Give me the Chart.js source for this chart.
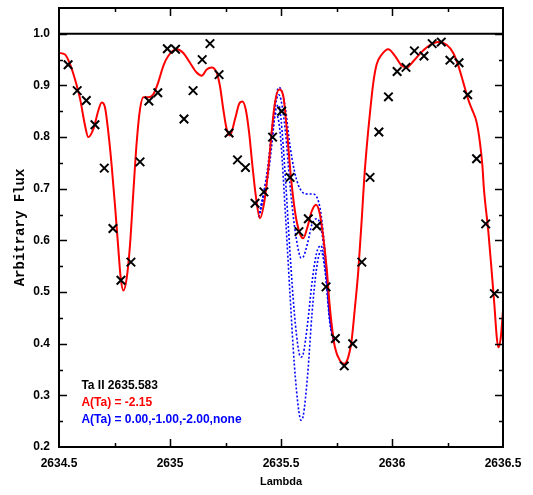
<!DOCTYPE html>
<html>
<head>
<meta charset="utf-8">
<script src="https://cdn.jsdelivr.net/npm/chart.js@4.4.1/dist/chart.umd.min.js"></script>
<style>
  body { margin: 0; background: #fff; }
  #wrap { width: 533px; height: 495px; position: relative; }
</style>
</head>
<body>
<div id="wrap"><canvas id="chart"></canvas></div>
<script>
// synthetic spectrum, A(Ta) = -2.15
const redX = [2634.500, 2634.527, 2634.550, 2634.572, 2634.595, 2634.617, 2634.632, 2634.655, 2634.677, 2634.692,
  2634.707, 2634.722, 2634.737, 2634.752, 2634.767, 2634.778, 2634.790, 2634.805, 2634.820, 2634.835,
  2634.850, 2634.865, 2634.880, 2634.902, 2634.925, 2634.947, 2634.970, 2634.992, 2635.030, 2635.060,
  2635.090, 2635.120, 2635.143, 2635.165, 2635.188, 2635.210, 2635.225, 2635.240, 2635.255, 2635.270,
  2635.293, 2635.311, 2635.326, 2635.341, 2635.356, 2635.371, 2635.386, 2635.405, 2635.425, 2635.443,
  2635.458, 2635.473, 2635.492, 2635.510, 2635.526, 2635.544, 2635.563, 2635.582, 2635.600, 2635.618,
  2635.638, 2635.658, 2635.676, 2635.691, 2635.706, 2635.718, 2635.728, 2635.743, 2635.766, 2635.785,
  2635.803, 2635.818, 2635.833, 2635.848, 2635.864, 2635.875, 2635.886, 2635.901, 2635.916, 2635.931,
  2635.954, 2635.983, 2636.014, 2636.044, 2636.066, 2636.096, 2636.134, 2636.171, 2636.209, 2636.246,
  2636.276, 2636.299, 2636.321, 2636.344, 2636.359, 2636.381, 2636.396, 2636.407, 2636.414, 2636.434,
  2636.449, 2636.461, 2636.472, 2636.479, 2636.490, 2636.501];
const redY = [0.963, 0.960, 0.941, 0.912, 0.874, 0.823, 0.800, 0.816, 0.851, 0.867,
  0.858, 0.810, 0.746, 0.669, 0.585, 0.527, 0.503, 0.527, 0.592, 0.694,
  0.790, 0.854, 0.877, 0.877, 0.883, 0.906, 0.938, 0.957, 0.970, 0.963,
  0.944, 0.925, 0.919, 0.931, 0.935, 0.925, 0.899, 0.854, 0.816, 0.803,
  0.835, 0.864, 0.869, 0.854, 0.810, 0.746, 0.688, 0.643, 0.675, 0.739,
  0.810, 0.867, 0.892, 0.880, 0.816, 0.726, 0.656, 0.617, 0.604, 0.624,
  0.656, 0.669, 0.649, 0.604, 0.545, 0.480, 0.438, 0.393, 0.367, 0.361,
  0.374, 0.406, 0.470, 0.540, 0.643, 0.720, 0.780, 0.848, 0.906, 0.941,
  0.960, 0.970, 0.957, 0.938, 0.935, 0.947, 0.965, 0.978, 0.984, 0.979,
  0.963, 0.938, 0.906, 0.872, 0.855, 0.829, 0.790, 0.746, 0.700, 0.617,
  0.540, 0.476, 0.412, 0.393, 0.412, 0.470];

// blue comparison syntheses, only where they leave the red curve
const blueX = [2635.40, 2635.44, 2635.46, 2635.475, 2635.49, 2635.50, 2635.52, 2635.54, 2635.56, 2635.58,
  2635.59, 2635.60, 2635.62, 2635.64, 2635.66, 2635.68, 2635.70, 2635.72, 2635.74];
const blueNone = [0.645, 0.740, 0.820, 0.872, 0.896, 0.893, 0.855, 0.785, 0.735, 0.705,
  0.697, 0.692, 0.690, 0.690, 0.685, 0.652, 0.570, 0.455, 0.400];
const blueM2 = [0.645, 0.735, 0.810, 0.862, 0.882, 0.872, 0.810, 0.710, 0.630, 0.578,
  0.566, 0.568, 0.595, 0.632, 0.642, 0.625, 0.555, 0.450, 0.400];
const blueM1 = [0.645, 0.728, 0.800, 0.850, 0.862, 0.835, 0.720, 0.580, 0.460, 0.385,
  0.374, 0.380, 0.440, 0.520, 0.575, 0.590, 0.540, 0.445, 0.400];
const blueZero = [0.645, 0.720, 0.790, 0.845, 0.830, 0.790, 0.650, 0.500, 0.360, 0.270,
  0.252, 0.260, 0.340, 0.460, 0.545, 0.580, 0.535, 0.440, 0.400];

// observed spectrum
const obsX = [2634.541, 2634.582, 2634.623, 2634.662, 2634.704, 2634.743, 2634.779, 2634.824, 2634.865, 2634.905,
  2634.945, 2634.988, 2635.025, 2635.063, 2635.104, 2635.145, 2635.180, 2635.221, 2635.266, 2635.304,
  2635.340, 2635.383, 2635.423, 2635.462, 2635.503, 2635.541, 2635.581, 2635.623, 2635.661, 2635.703,
  2635.745, 2635.785, 2635.823, 2635.864, 2635.901, 2635.941, 2635.984, 2636.023, 2636.063, 2636.101,
  2636.144, 2636.181, 2636.222, 2636.261, 2636.302, 2636.341, 2636.381, 2636.422, 2636.461];
const obsY = [0.940, 0.890, 0.871, 0.824, 0.740, 0.623, 0.523, 0.558, 0.752, 0.870,
  0.886, 0.971, 0.970, 0.835, 0.890, 0.950, 0.981, 0.921, 0.808, 0.756,
  0.741, 0.672, 0.694, 0.800, 0.850, 0.722, 0.617, 0.642, 0.628, 0.510,
  0.410, 0.357, 0.400, 0.558, 0.722, 0.810, 0.878, 0.927, 0.935, 0.967,
  0.957, 0.981, 0.984, 0.949, 0.944, 0.882, 0.758, 0.632, 0.497];

// continuum
const contX = [2634.5, 2636.5];
const contY = [1.0, 1.0];

const noteLines = ["Ta II 2635.583", "A(Ta) = -2.15", "A(Ta) = 0.00,-1.00,-2.00,none"];
const noteColors = ["#000000", "#ff0000", "#0000ff"];

const toXY = (xs, ys) => xs.map((x, i) => ({ x: x, y: ys[i] }));

const isMajorY = v => Math.round(v * 100) % 10 === 0;
const isMajorX = v => Math.round(v * 100) % 50 === 0;

const blueSet = (ys) => ({
  data: toXY(blueX, ys),
  showLine: true,
  borderColor: "#0000ff",
  borderWidth: 1.6,
  borderDash: [2, 2],
  pointRadius: 0,
  cubicInterpolationMode: "monotone",
  order: 3,
});

const framePlugin = {
  id: "frame",
  afterDatasetsDraw(chart) {
    const { ctx, chartArea } = chart;
    const { left, right, top, bottom } = chartArea;
    const xs = chart.scales.x;
    const ys = chart.scales.y;
    ctx.save();
    ctx.strokeStyle = "#000";
    ctx.lineWidth = 1.5;
    ys.ticks.forEach(t => {
      const v = t.value;
      if (v <= ys.min + 1e-6 || v >= ys.max - 1e-6) return;
      const p = Math.round(ys.getPixelForValue(v)) + 0.5;
      const len = isMajorY(v) ? 8 : 4;
      ctx.beginPath();
      ctx.moveTo(left, p); ctx.lineTo(left + len, p);
      ctx.moveTo(right, p); ctx.lineTo(right - len, p);
      ctx.stroke();
    });
    xs.ticks.forEach(t => {
      const v = t.value;
      if (v <= xs.min + 1e-6 || v >= xs.max - 1e-6) return;
      const p = Math.round(xs.getPixelForValue(v)) + 0.5;
      const len = isMajorX(v) ? 8 : 4;
      ctx.beginPath();
      ctx.moveTo(p, bottom); ctx.lineTo(p, bottom - len);
      ctx.moveTo(p, top); ctx.lineTo(p, top + len);
      ctx.stroke();
    });
    ctx.lineWidth = 2;
    ctx.strokeRect(left, top, right - left, bottom - top);

    // annotation text
    ctx.font = "bold 12px 'Liberation Sans', Arial, sans-serif";
    ctx.textBaseline = "middle";
    ctx.textAlign = "left";
    const tx = xs.getPixelForValue(2634.601);
    const rows = [0.318, 0.286, 0.253];
    noteLines.forEach((s, i) => {
      ctx.fillStyle = noteColors[i];
      ctx.fillText(s, tx, ys.getPixelForValue(rows[i]));
    });
    ctx.restore();
  },
};

new Chart(document.getElementById("chart"), {
  type: "scatter",
  data: {
    datasets: [
      {
        data: toXY(obsX, obsY),
        showLine: false,
        pointStyle: "crossRot",
        pointRadius: 6,
        pointBorderWidth: 2,
        borderColor: "#000",
        backgroundColor: "#000",
        order: 0,
      },
      {
        data: toXY(redX, redY),
        showLine: true,
        borderColor: "#ff0000",
        borderWidth: 2,
        pointRadius: 0,
        cubicInterpolationMode: "monotone",
        order: 1,
      },
      blueSet(blueNone),
      blueSet(blueM2),
      blueSet(blueM1),
      blueSet(blueZero),
      {
        data: toXY(contX, contY),
        showLine: true,
        borderColor: "#000",
        borderWidth: 2,
        pointRadius: 0,
        order: 4,
      },
    ],
  },
  options: {
    responsive: true,
    maintainAspectRatio: false,
    animation: false,
    events: [],
    layout: { padding: { top: 4, right: 30, left: 0, bottom: 0 } },
    plugins: { legend: { display: false }, tooltip: { enabled: false } },
    scales: {
      x: {
        type: "linear",
        min: 2634.5,
        max: 2636.5,
        afterFit: s => { s.height = 48; s.paddingLeft = 0; s.paddingRight = 0; },
        grid: { display: false, drawTicks: false },
        border: { display: false },
        ticks: {
          stepSize: 0.25,
          padding: 9,
          color: "#000",
          maxRotation: 0,
          autoSkip: false,
          font: { family: "'Liberation Sans', Arial, sans-serif", size: 12, weight: "bold" },
          callback: v => (isMajorX(v) ? String(Math.round(v * 10) / 10) : ""),
        },
        title: {
          display: true,
          text: "Lambda",
          color: "#000",
          padding: { top: 0, bottom: 6 },
          font: { family: "'Liberation Sans', Arial, sans-serif", size: 11, weight: "bold" },
        },
      },
      y: {
        min: 0.2,
        max: 1.05,
        afterFit: s => { s.width = 59; s.paddingTop = 0; s.paddingBottom = 0; },
        grid: { display: false, drawTicks: false },
        border: { display: false },
        ticks: {
          stepSize: 0.05,
          padding: 9,
          color: "#000",
          autoSkip: false,
          font: { family: "'Liberation Sans', Arial, sans-serif", size: 12, weight: "bold" },
          callback: v => (isMajorY(v) ? v.toFixed(1) : ""),
        },
        title: {
          display: true,
          text: "Arbitrary Flux",
          color: "#000",
          padding: { top: 12, bottom: 0 },
          font: { family: "'Liberation Mono', monospace", size: 14, weight: "bold" },
        },
      },
    },
  },
  plugins: [framePlugin],
});
</script>
</body>
</html>
